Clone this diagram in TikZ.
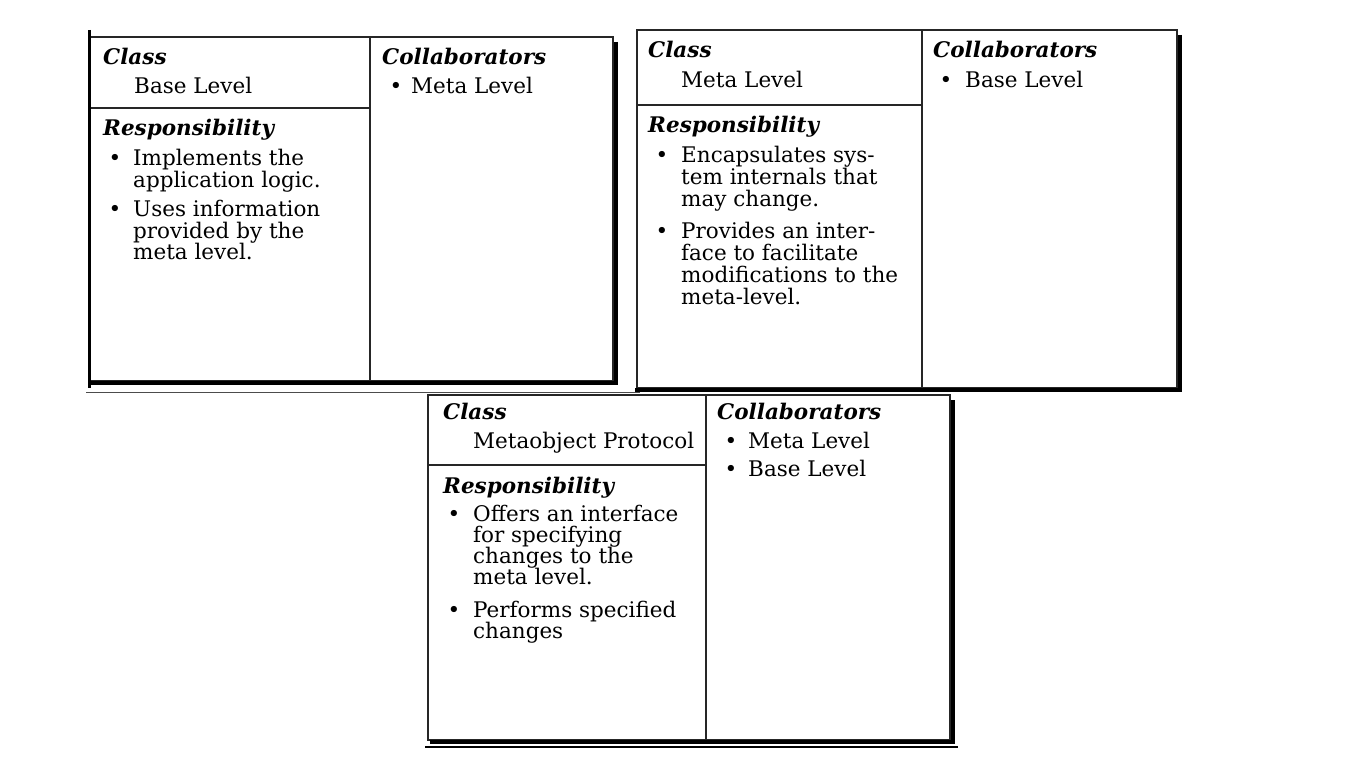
\documentclass[tikz,border=0pt]{standalone}
\usepackage{fontspec}
\setmainfont{DejaVu Serif}
\begin{document}
\begin{tikzpicture}[x=1pt,y=-1pt,
  card/.style={draw=black!85, line width=1.2pt, anchor=north west, inner sep=0pt, outer sep=0pt},
  divider/.style={draw=black!85, line width=1.2pt},
  shade/.style={draw=black, line width=4.5pt},
  scanline/.style={draw=black!70, line width=1pt},
  txt/.style={anchor=base west, inner sep=0pt, font=\fontsize{21.5}{23}\selectfont},
  head/.style={anchor=base west, inner sep=0pt, font=\fontsize{21.5}{23}\selectfont\bfseries\itshape},
  bul/.style={anchor=base, inner sep=0pt, font=\fontsize{21.5}{23}\selectfont}
]
\useasboundingbox[fill=white] (0,0) rectangle (1356,776);

% ---------- Card 1 : Base Level ----------
\node[card, minimum width=523pt, minimum height=344pt] (c1) at (90,37) {};
\coordinate (c1v) at (370,37);
\coordinate (c1h) at (90,108);
\draw[divider] (c1v) -- (c1v |- c1.south);
\draw[divider] (c1h) -- (c1v |- c1h);
\draw[shade] ([shift={(3,5)}]c1.north east) -- ([shift={(3,2)}]c1.south east) -- ([shift={(1,2)}]c1.south west);
\draw[draw=black, line width=3pt] ([shift={(-1,-7)}]c1.north west) -- ([shift={(-1,7)}]c1.south west);
\draw[scanline] ([shift={(-4,11)}]c1.south west) -- ([shift={(27,11)}]c1.south east);

\node[head] (c1cl) at (103,64) {Class};
\node[txt]  (c1nm) at (134,93) {Base Level};
\node[head] (c1co) at (382,64) {Collaborators};
\node[bul]  (c1cb1) at (396,93) {•};
\node[txt]  (c1ct1) at (411,93) {Meta Level};
\node[head] (c1re) at (103,135) {Responsibility};
\node[bul]  (c1b1) at (115,165) {•};
\node[txt]  (c1r1) at (133,165) {Implements the};
\node[txt]  (c1r2) at (133,187) {application logic.};
\node[bul]  (c1b2) at (115,216) {•};
\node[txt]  (c1r3) at (133,216) {Uses information};
\node[txt]  (c1r4) at (133,238) {provided by the};
\node[txt]  (c1r5) at (133,259) {meta level.};

% ---------- Card 2 : Meta Level ----------
\node[card, minimum width=540pt, minimum height=358pt] (c2) at (637,30) {};
\coordinate (c2v) at (922,30);
\coordinate (c2h) at (637,105);
\draw[divider] (c2v) -- (c2v |- c2.south);
\draw[divider] (c2h) -- (c2v |- c2h);
\draw[shade] ([shift={(3,5)}]c2.north east) -- ([shift={(3,2)}]c2.south east) -- ([shift={(-2,2)}]c2.south west);

\node[head] (c2cl) at (648,57) {Class};
\node[txt]  (c2nm) at (681,87) {Meta Level};
\node[head] (c2co) at (933,57) {Collaborators};
\node[bul]  (c2cb1) at (946,87) {•};
\node[txt]  (c2ct1) at (965,87) {Base Level};
\node[head] (c2re) at (648,132) {Responsibility};
\node[bul]  (c2b1) at (662,162) {•};
\node[txt]  (c2r1) at (681,162) {Encapsulates sys-};
\node[txt]  (c2r2) at (681,184) {tem internals that};
\node[txt]  (c2r3) at (681,206) {may change.};
\node[bul]  (c2b2) at (662,238) {•};
\node[txt]  (c2r4) at (681,238) {Provides an inter-};
\node[txt]  (c2r5) at (681,260) {face to facilitate};
\node[txt]  (c2r6) at (681,282) {modifications to the};
\node[txt]  (c2r7) at (681,304) {meta-level.};

% ---------- Card 3 : Metaobject Protocol ----------
\node[card, minimum width=522pt, minimum height=345pt] (c3) at (428,395) {};
\coordinate (c3v) at (706,395);
\coordinate (c3h) at (428,465);
\draw[divider] (c3v) -- (c3v |- c3.south);
\draw[divider] (c3h) -- (c3v |- c3h);
\draw[shade] ([shift={(3,5)}]c3.north east) -- ([shift={(3,2)}]c3.south east) -- ([shift={(2,2)}]c3.south west);
\draw[draw=black, line width=1.5pt] ([shift={(-3,7)}]c3.south west) -- ([shift={(8,7)}]c3.south east);

\node[head] (c3cl) at (443,419) {Class};
\node[txt]  (c3nm) at (473,448) {Metaobject Protocol};
\node[head] (c3co) at (717,419) {Collaborators};
\node[bul]  (c3cb1) at (731,448) {•};
\node[txt]  (c3ct1) at (748,448) {Meta Level};
\node[bul]  (c3cb2) at (731,476) {•};
\node[txt]  (c3ct2) at (748,476) {Base Level};
\node[head] (c3re) at (443,493) {Responsibility};
\node[bul]  (c3b1) at (454,521) {•};
\node[txt]  (c3r1) at (473,521) {Offers an interface};
\node[txt]  (c3r2) at (473,542) {for specifying};
\node[txt]  (c3r3) at (473,563) {changes to the};
\node[txt]  (c3r4) at (473,584) {meta level.};
\node[bul]  (c3b2) at (454,617) {•};
\node[txt]  (c3r5) at (473,617) {Performs specified};
\node[txt]  (c3r6) at (473,638) {changes};
\end{tikzpicture}
\end{document}
